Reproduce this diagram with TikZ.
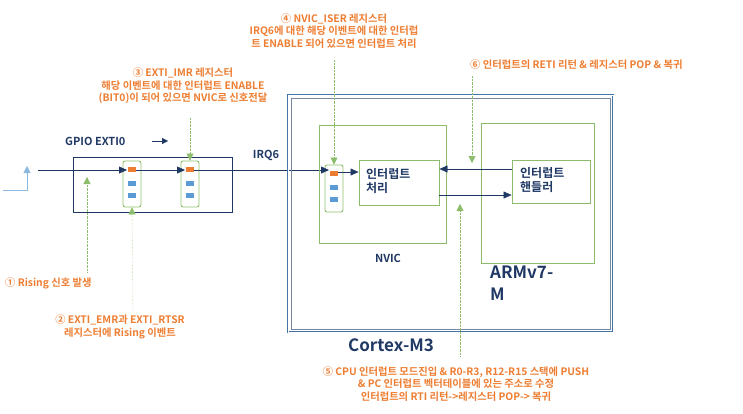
\documentclass[tikz,border=0pt]{standalone}
\usepackage{fontspec}
\setmainfont{Noto Sans CJK KR}[BoldFont={* Bold}]
\usetikzlibrary{arrows.meta}
\definecolor{nav}{HTML}{1F3864}
\definecolor{org}{HTML}{ED7D31}
\definecolor{grn}{HTML}{70AD47}
\definecolor{blu}{HTML}{5B9BD5}
\begin{document}
\begin{tikzpicture}[x=1pt,y=-1pt,
  note/.style={text=org,font=\fontsize{10.3}{12.5}\selectfont\bfseries,align=center,inner sep=0},
  lbl/.style={text=nav,font=\fontsize{11}{13}\selectfont\bfseries,inner sep=0},
  ga/.style={grn!80,densely dotted,-{Triangle[width=7pt,length=7pt]}},
  na/.style={nav,-{Triangle[width=7pt,length=8pt]}},
  sel/.style={draw=grn!80,rounded corners=2pt,line width=0.9pt},
  gbox/.style={draw=grn!80,line width=0.9pt}]
\useasboundingbox (0,0) rectangle (743,413);
% rising
\draw[blu!70,-{Triangle[width=7pt,length=7pt]}] (3,190) -- (27,190) -- (27,166);
% GPIO box
\draw[nav,line width=0.8pt] (73,157) rectangle (232,212);
\node[lbl,anchor=west] (gpio) at (65,141) {GPIO EXTI0};
\draw[nav,-{Triangle[width=6pt,length=6pt]}] (152,141) -- (168,141);
% selectors
\foreach \n/\x/\yt/\yb in {s1/132/161/207, s2/190/161/207, s3/334/165/212}{
  \node[sel,minimum width=18pt,minimum height={\yb-\yt},inner sep=0] (\n) at (\x,{(\yt+\yb)/2}) {};
  \fill[org] (\x-4,\yt+6) rectangle (\x+4,\yt+11);
  \fill[blu] (\x-4,\yt+20) rectangle (\x+4,\yt+25);
  \fill[blu] (\x-4,\yt+32) rectangle (\x+4,\yt+37);
}
\coordinate (st) at (38,170);
\draw[na] (st) -- (127,170);
\draw[na] (136,170) -- (185,170);
\draw[na] (194,170) -- (329,170);
\node[lbl] (irq) at (266,155) {IRQ6};
% Cortex
\draw[blu!60!nav,line width=2.2pt] (288,95) rectangle (613,332);
\draw[white,line width=0.8pt] (288,95) rectangle (613,332);
\draw[nav!60,line width=0.6pt] (291,98) rectangle (610,329);
\node[text=nav,font=\fontsize{17}{19}\selectfont\bfseries,inner sep=0] (cm3) at (391,345) {Cortex-M3};
% NVIC
\draw[gbox] (319,125) rectangle (446,243);
\node[lbl] (nvic) at (388,258) {NVIC};
\node[gbox,minimum width=80pt,minimum height=45pt,inner sep=0] (proc) at (399,182.5) {};
\node[lbl,anchor=west,align=left,font=\fontsize{12}{14.5}\selectfont\bfseries] at (366,181) {인터럽트\\처리};
% ARM
\draw[gbox] (481,123) rectangle (594,263);
\node[lbl,anchor=north west,align=left,font=\fontsize{17}{22}\selectfont\bfseries] (arm) at (490,266) {ARMv7-\\M};
\node[gbox,minimum width=78pt,minimum height=43pt,inner sep=0] (hand) at (551,181.5) {};
\node[lbl,anchor=west,align=left,font=\fontsize{12}{14.5}\selectfont\bfseries] at (520,180) {인터럽트\\핸들러};
\draw[na] (338,172) -- (proc.west|-0,172);
\draw[na] (hand.west|-0,169) -- (proc.east|-0,169);
\draw[na] (proc.east|-0,195) -- (hand.west|-0,195);
% notes
\node[note] (n4) at (334,31) {④ NVIC\_ISER 레지스터\\IRQ6에 대한 해당 이벤트에 대한 인터럽\\트 ENABLE 되어 있으면 인터럽트 처리};
\node[note] (n3) at (183,86) {③ EXTI\_IMR 레지스터\\해당 이벤트에 대한 인터럽트 ENABLE\\(BIT0)이 되어 있으면 NVIC로 신호전달};
\node[note,anchor=west] (n6) at (470,65) {⑥ 인터럽트의 RETI 리턴 \& 레지스터 POP \& 복귀};
\node[note,anchor=west] (n1) at (5,283) {① Rising 신호 발생};
\node[note] (n2) at (120,327) {② EXTI\_EMR과 EXTI\_RTSR\\레지스터에 Rising 이벤트};
\node[note] (n5) at (456,384) {⑤ CPU 인터럽트 모드진입 \& R0-R3, R12-R15 스택에 PUSH\\\& PC 인터럽트 벡터테이블에 있는 주소로 수정\\인터럽트의 RTI 리턴->레지스터 POP-> 복귀};
\draw[ga] (334,60) -- (s3.north);
\draw[ga] (190,118) -- (s2.north);
\draw[ga] (472,76) -- (472,163);
\draw[ga] (460,356) -- (460,204);
\draw[ga] (87,272) -- (87,177);
\draw[ga] (133,312) -- (s1.south);
\end{tikzpicture}
\end{document}
